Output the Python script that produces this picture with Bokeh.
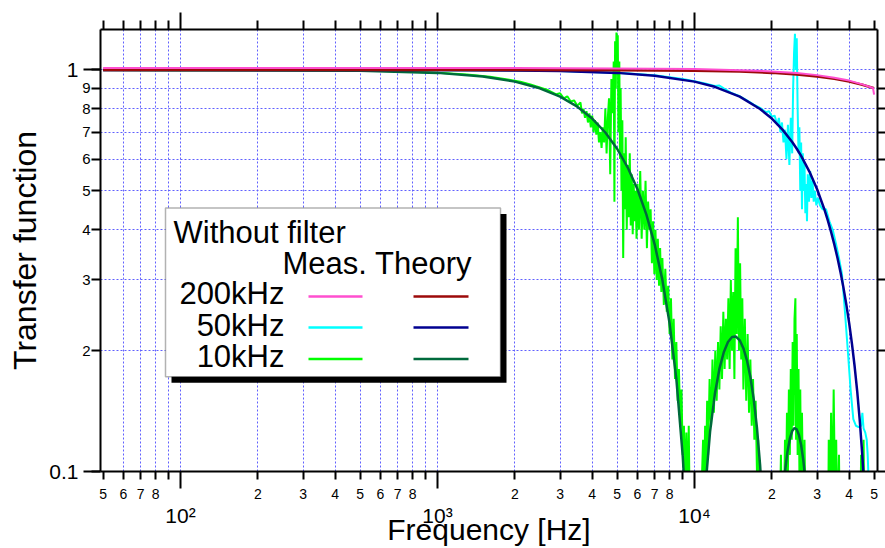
import math
from bokeh.plotting import figure
from bokeh.models import Range1d, LogAxis, FixedTicker, Label, BoxAnnotation
from bokeh.embed import file_html
from bokeh.resources import INLINE

# ---------------- data ----------------
# 200 kHz, theory
f_200k_th = [50, 1000, 5000, 10000, 15000, 20000, 25000, 30000, 35000, 40000, 45000, 50000]
v_200k_th = [1.0, 1.0, 0.999, 0.9959, 0.9908, 0.9836, 0.9745, 0.9634, 0.9503, 0.9355, 0.9189, 0.9003]
# 200 kHz, measured
f_200k_meas = [50, 500, 2000, 5000, 10000, 15000, 20000, 25000, 30000, 35000, 40000, 45000, 49500, 50000]
v_200k_meas = [1.012, 1.012, 1.011, 1.009, 1.005, 0.999, 0.992, 0.983, 0.971, 0.957, 0.941, 0.921, 0.902, 0.868]

# 50 kHz, theory
f_50k_th = [50, 500, 1000, 2000, 3000, 5000, 7000, 10000, 12000, 15000,
            18000, 20000, 22000, 24000, 25000, 26000, 28000, 30000, 32000, 33000,
            34000, 35000, 36000, 37000, 38000, 39000, 40000, 41000, 42000, 43000,
            44000, 45000, 46000, 47000]
v_50k_th = [1.0, 1.0, 0.9993, 0.9974, 0.9941, 0.9836, 0.9681, 0.9355, 0.908, 0.8584,
            0.7996, 0.7568, 0.7103, 0.6618, 0.6366, 0.6109, 0.5584, 0.5046, 0.45, 0.4226,
            0.3952, 0.3679, 0.3406, 0.3136, 0.2867, 0.2601, 0.2339, 0.208, 0.1826, 0.1576,
            0.1332, 0.1093, 0.0861, 0.0635]
# 50 kHz, measured
f_50k_meas = [50, 200, 500, 1000, 2000, 3000, 5000, 7000, 9000, 10000,
              11000, 12000, 12500, 13000, 14000, 15000, 16000, 17000, 18000, 19000,
              19500, 20000, 20500, 21000, 21300, 21600, 21900, 22200, 22500, 22800,
              23100, 23400, 23700, 24000, 24200, 24400, 24600, 24800, 25000, 25200,
              25400, 25600, 25800, 26000, 26200, 26400, 26600, 26800, 27000, 27200,
              27400, 27600, 27900, 28200, 28500, 28800, 29100, 29400, 29800, 30200,
              30800, 31500, 32500, 33500, 34500, 35500, 36500, 37500, 38500, 39500,
              40500, 41500, 42500, 43500, 44500, 45000, 45500, 46200, 46800, 47200,
              47600, 48000]
v_50k_meas = [1.0, 1.0, 0.999, 0.999, 0.997, 0.994, 0.985, 0.97, 0.95, 0.938,
              0.925, 0.912, 0.915, 0.90, 0.875, 0.86, 0.84, 0.82, 0.805, 0.785,
              0.79, 0.765, 0.77, 0.73, 0.76, 0.70, 0.74, 0.66, 0.71, 0.60,
              0.73, 0.58, 0.76, 0.62, 0.9, 1.1, 1.23, 1.0, 1.2, 0.8,
              0.62, 0.72, 0.5, 0.66, 0.45, 0.62, 0.5, 0.58, 0.44, 0.52,
              0.42, 0.55, 0.47, 0.56, 0.48, 0.53, 0.47, 0.50, 0.46, 0.48,
              0.46, 0.45, 0.45, 0.42, 0.40, 0.37, 0.34, 0.31, 0.25, 0.2,
              0.16, 0.135, 0.13, 0.129, 0.13, 0.14, 0.128, 0.125, 0.12, 0.11,
              0.095, 0.08]

# 10 kHz, theory
f_10k_th = [50, 500, 1000, 1500, 2000, 2500, 3000, 3500, 4000, 4500,
            5000, 5500, 6000, 6500, 7000, 7500, 8000, 8500, 9000, 9200,
            9500, 10000, 10500, 11000, 11500, 12000, 12500, 13000, 13500, 14000,
            14500, 15000, 15500, 16000, 16500, 17000, 17500, 18000, 18500, 20000,
            22000, 22500, 23000, 23500, 24000, 24500, 25000, 25500, 26000, 26500,
            27000, 28000, 30000]
v_10k_th = [1.0, 0.9959, 0.9836, 0.9634, 0.9355, 0.9003, 0.8584, 0.8103, 0.7568, 0.6987,
            0.6366, 0.5716, 0.5046, 0.4363, 0.3679, 0.3001, 0.2339, 0.17, 0.1093, 0.086,
            0.0524, 0.01, 0.0474, 0.0894, 0.1257, 0.1559, 0.1801, 0.1981, 0.2101, 0.2162,
            0.2168, 0.2122, 0.2028, 0.1892, 0.1719, 0.1515, 0.1286, 0.1039, 0.0781, 0.01,
            0.085, 0.1, 0.112, 0.1207, 0.1261, 0.1283, 0.1273, 0.1233, 0.1164, 0.107,
            0.0954, 0.0668, 0.01]
# 10 kHz, measured
f_10k_meas = [50, 100, 200, 400, 700, 1000, 1300, 1600, 1900, 2100,
              2300, 2500, 2700, 2900, 3000, 3100, 3200, 3300, 3400, 3500,
              3600, 3650, 3700, 3750, 3800, 3850, 3900, 3950, 4000, 4050,
              4100, 4150, 4200, 4250, 4300, 4350, 4400, 4450, 4500, 4550,
              4600, 4650, 4700, 4750, 4800, 4850, 4880, 4910, 4940, 4970,
              5000, 5030, 5060, 5100, 5130, 5160, 5200, 5240, 5280, 5320,
              5360, 5400, 5450, 5500, 5550, 5600, 5650, 5700, 5750, 5800,
              5850, 5900, 5950, 6000, 6080, 6150, 6230, 6300, 6380, 6450,
              6530, 6600, 6680, 6750, 6830, 6900, 6980, 7050, 7130, 7200,
              7280, 7350, 7430, 7500, 7600, 7700, 7800, 7900, 8000, 8100,
              8200, 8300, 8400, 8500, 8600, 8700, 8800, 8900, 9000, 9100,
              9200, 9300, 9400, 9500, 9600, 9800, 10000, 10300, 10600, 10800,
              10900, 11000, 11100, 11200, 11300, 11450, 11600, 11750, 11900, 12050,
              12200, 12350, 12500, 12650, 12800, 12950, 13100, 13250, 13400, 13550,
              13700, 13850, 14000, 14150, 14300, 14450, 14600, 14750, 14900, 15050,
              15200, 15350, 15500, 15700, 15900, 16100, 16300, 16500, 16700, 16900,
              17100, 17300, 17500, 17700, 17900, 18200, 19000, 20000, 21000, 21500,
              21700, 21900, 22100, 22300, 22500, 22700, 22900, 23100, 23300, 23500,
              23700, 23900, 24100, 24300, 24500, 24700, 24850, 25000, 25200, 25400,
              25600, 25800, 26000, 26200, 26500, 26800, 27100, 28000, 30000, 33000,
              33300, 33600, 34000, 34400, 34800, 35200, 35600, 36000, 36500, 37000,
              40000, 44000, 44500, 45000, 45500, 46000, 47000]
v_10k_meas = [1.0, 0.999, 1.0, 0.998, 0.993, 0.985, 0.975, 0.962, 0.945, 0.935,
              0.92, 0.905, 0.89, 0.87, 0.875, 0.85, 0.86, 0.835, 0.84, 0.815,
              0.83, 0.78, 0.80, 0.76, 0.79, 0.74, 0.78, 0.72, 0.77, 0.70,
              0.75, 0.69, 0.74, 0.66, 0.70, 0.64, 0.72, 0.66, 0.80, 0.62,
              0.76, 0.85, 0.55, 0.95, 0.78, 1.05, 0.47, 1.18, 0.9, 1.24,
              1.1, 1.22, 0.7, 1.05, 0.6, 0.9, 0.5, 0.75, 0.34, 0.62,
              0.45, 0.68, 0.40, 0.58, 0.43, 0.62, 0.41, 0.55, 0.39, 0.52,
              0.42, 0.50, 0.38, 0.52, 0.40, 0.56, 0.38, 0.50, 0.40, 0.53,
              0.36, 0.47, 0.40, 0.45, 0.33, 0.42, 0.31, 0.40, 0.30, 0.38,
              0.29, 0.36, 0.28, 0.34, 0.26, 0.32, 0.25, 0.29, 0.22, 0.27,
              0.19, 0.24, 0.17, 0.21, 0.15, 0.18, 0.13, 0.16, 0.11, 0.13,
              0.09, 0.125, 0.08, 0.13, 0.07, 0.05, 0.03, 0.05, 0.08, 0.12,
              0.09, 0.13, 0.10, 0.15, 0.11, 0.17, 0.13, 0.19, 0.14, 0.2,
              0.15, 0.21, 0.16, 0.23, 0.17, 0.25, 0.18, 0.24, 0.19, 0.27,
              0.18, 0.3, 0.2, 0.28, 0.17, 0.36, 0.22, 0.43, 0.2, 0.33,
              0.19, 0.27, 0.16, 0.24, 0.15, 0.22, 0.14, 0.19, 0.13, 0.17,
              0.12, 0.15, 0.1, 0.12, 0.08, 0.06, 0.04, 0.03, 0.05, 0.08,
              0.11, 0.07, 0.1, 0.08, 0.12, 0.09, 0.14, 0.1, 0.16, 0.11,
              0.18, 0.12, 0.21, 0.13, 0.24, 0.27, 0.12, 0.22, 0.11, 0.18,
              0.1, 0.16, 0.09, 0.14, 0.08, 0.12, 0.07, 0.05, 0.04, 0.05,
              0.12, 0.07, 0.14, 0.08, 0.16, 0.09, 0.12, 0.07, 0.11, 0.05,
              0.04, 0.06, 0.11, 0.07, 0.12, 0.06, 0.04]

# tick values and labels
x_ticks = [50, 60, 70, 80, 90, 200, 300, 400, 500, 600, 700, 800, 900,
           2000, 3000, 4000, 5000, 6000, 7000, 8000, 9000,
           20000, 30000, 40000, 50000]
x_tick_labels = ["5", "6", "7", "8", "", "2", "3", "4", "5", "6", "7", "8", "",
                 "2", "3", "4", "5", "6", "7", "8", "",
                 "2", "3", "4", "5"]
x_decades = [100, 1000, 10000]
x_decade_labels = ["10\u00b2", "10\u00b3", "10\u2074"]
y_ticks = [0.1, 0.2, 0.3, 0.4, 0.5, 0.6, 0.7, 0.8, 0.9, 1.0]
y_tick_labels = ["", "2", "3", "4", "5", "6", "7", "8", "9", ""]
y_decades = [0.1, 1.0]
y_decade_labels = ["0.1", "1"]

legend_rows = ["200kHz", "50kHz", "10kHz"]
meas_colors = ["#ff4fcf", "#00ffff", "#00ff00"]
theory_colors = ["#9c0a0a", "#000090", "#006a3c"]

# ---------------- layout ----------------
FIG_W, FIG_H = 885, 548
MB_L, MB_R, MB_T, MB_B = 100, 8, 29, 76
X_START, X_END = 48.84, 51540
Y_START, Y_END = 0.1, 1.2614
FONT = "Liberation Sans"
TEXT_DY = 9.5   # baseline correction for in-frame labels

FL, FR = MB_L, FIG_W - MB_R
FT, FB = MB_T, FIG_H - MB_B

def dx(X):
    a, b = math.log10(X_START), math.log10(X_END)
    return 10 ** (a + (X - FL) / (FR - FL) * (b - a))

def dy(Y):
    a, b = math.log10(Y_START), math.log10(Y_END)
    return 10 ** (b - (Y - FT) / (FB - FT) * (b - a))

p = figure(width=FIG_W, height=FIG_H, x_axis_type="log", y_axis_type="log",
           x_range=Range1d(X_START, X_END), y_range=Range1d(Y_START, Y_END),
           output_backend="svg", toolbar_location=None,
           min_border_left=MB_L, min_border_right=MB_R,
           min_border_top=MB_T, min_border_bottom=MB_B)
p.outline_line_color = None
p.background_fill_color = "white"
p.border_fill_color = "white"

# grid
p.xgrid[0].ticker = FixedTicker(ticks=sorted(x_ticks[1:-1] + x_decades))
p.ygrid[0].ticker = FixedTicker(ticks=y_ticks[1:])
for g in (p.xgrid[0], p.ygrid[0]):
    g.grid_line_color = "#6060ff"
    g.grid_line_dash = "2 2"
    g.grid_line_width = 1

def style_axis(ax):
    ax.axis_line_width = 2
    ax.major_tick_line_width = 2
    ax.minor_tick_line_width = 2
    ax.major_tick_in = 0
    ax.minor_tick_in = 0
    ax.major_label_text_font = FONT
    ax.major_label_text_color = "black"
    ax.axis_label_text_font = FONT
    ax.axis_label_text_font_style = "normal"
    ax.axis_label_text_color = "black"

def plain_axis(ax):
    ax.axis_line_color = None
    ax.major_tick_line_color = None
    ax.minor_tick_line_color = None
    ax.major_tick_out = 0
    ax.minor_tick_out = 0

# bottom axis: digit labels + ticks
xb = p.xaxis[0]
xb.ticker = FixedTicker(ticks=x_ticks, minor_ticks=x_decades)
xb.major_label_overrides = {t: s for t, s in zip(x_ticks, x_tick_labels)}
style_axis(xb)
xb.major_tick_out = 8
xb.minor_tick_out = 17
xb.major_label_text_font_size = "14px"
xb.major_label_standoff = 0

# bottom axis 2: decade labels and title
xb2 = LogAxis(ticker=FixedTicker(ticks=x_decades))
xb2.major_label_overrides = {t: s for t, s in zip(x_decades, x_decade_labels)}
style_axis(xb2)
plain_axis(xb2)
xb2.major_label_text_font_size = "21px"
xb2.major_label_standoff = 2
xb2.axis_label = "Frequency [Hz]"
xb2.axis_label_text_font_size = "30px"
xb2.axis_label_standoff = -17
p.add_layout(xb2, "below")

# top axis
xt = LogAxis(ticker=FixedTicker(ticks=x_ticks, minor_ticks=x_decades))
xt.major_label_overrides = {t: "" for t in x_ticks}
style_axis(xt)
xt.major_tick_out = 9
xt.minor_tick_out = 17
xt.major_label_text_font_size = "1px"
xt.major_label_standoff = 0
p.add_layout(xt, "above")

# left axis: digit labels + ticks
yl = p.yaxis[0]
yl.ticker = FixedTicker(ticks=y_ticks, minor_ticks=y_decades)
yl.major_label_overrides = {t: s for t, s in zip(y_ticks, y_tick_labels)}
style_axis(yl)
yl.major_tick_out = 9
yl.minor_tick_out = 17
yl.major_label_text_font_size = "15px"
yl.major_label_standoff = -7

# left axis 2: decade labels and title
yl2 = LogAxis(ticker=FixedTicker(ticks=y_decades))
yl2.major_label_overrides = {t: s for t, s in zip(y_decades, y_decade_labels)}
style_axis(yl2)
plain_axis(yl2)
yl2.major_label_text_font_size = "21px"
yl2.major_label_standoff = 1
yl2.axis_label = "Transfer function"
yl2.axis_label_text_font_size = "32px"
yl2.axis_label_standoff = 3
p.add_layout(yl2, "left")

# right axis
yr = LogAxis(ticker=FixedTicker(ticks=y_ticks))
yr.major_label_overrides = {t: "" for t in y_ticks}
style_axis(yr)
yr.major_tick_out = 8
yr.minor_tick_out = 0
yr.major_label_text_font_size = "1px"
yr.major_label_standoff = 0
p.add_layout(yr, "right")

# ---------------- curves ----------------
p.line(f_10k_meas, v_10k_meas, line_color=meas_colors[2], line_width=2)
p.line(f_50k_meas, v_50k_meas, line_color=meas_colors[1], line_width=2)
p.line(f_10k_th, v_10k_th, line_color=theory_colors[2], line_width=2.5)
p.line(f_50k_th, v_50k_th, line_color=theory_colors[1], line_width=2.5)
p.line(f_200k_th, v_200k_th, line_color=theory_colors[0], line_width=2.5)
p.line(f_200k_meas, v_200k_meas, line_color=meas_colors[0], line_width=2)

# ---------------- legend box ----------------
def lab(text, X, Y, size, align="left"):
    p.add_layout(Label(x=dx(X), y=dy(Y - TEXT_DY), text=text, text_font=FONT,
                       text_font_size=f"{size}px", text_align=align,
                       text_baseline="alphabetic", text_color="black"))

p.add_layout(BoxAnnotation(left=dx(171), right=dx(506), top=dy(214), bottom=dy(383),
                           fill_color="black", fill_alpha=1.0, line_color=None))
p.add_layout(BoxAnnotation(left=dx(165), right=dx(500), top=dy(208), bottom=dy(377),
                           fill_color="white", fill_alpha=1.0, line_color="black",
                           line_width=1.5))
lab("Without filter", 173, 241.5, 31)
lab("Meas. Theory", 282, 273.5, 31)
row_base = [303.3, 335.5, 366.7]
row_line = [296.7, 327.7, 359.3]
for name, yb in zip(legend_rows, row_base):
    lab(name, 284, yb, 31, align="right")
p.segment(x0=[dx(308)] * 3, x1=[dx(362)] * 3, y0=[dy(y) for y in row_line],
          y1=[dy(y) for y in row_line], line_color=meas_colors, line_width=2.5,
          level="overlay")
p.segment(x0=[dx(413)] * 3, x1=[dx(468)] * 3, y0=[dy(y) for y in row_line],
          y1=[dy(y) for y in row_line], line_color=theory_colors, line_width=2.5,
          level="overlay")

open("out.html", "w").write(file_html(p, INLINE))
